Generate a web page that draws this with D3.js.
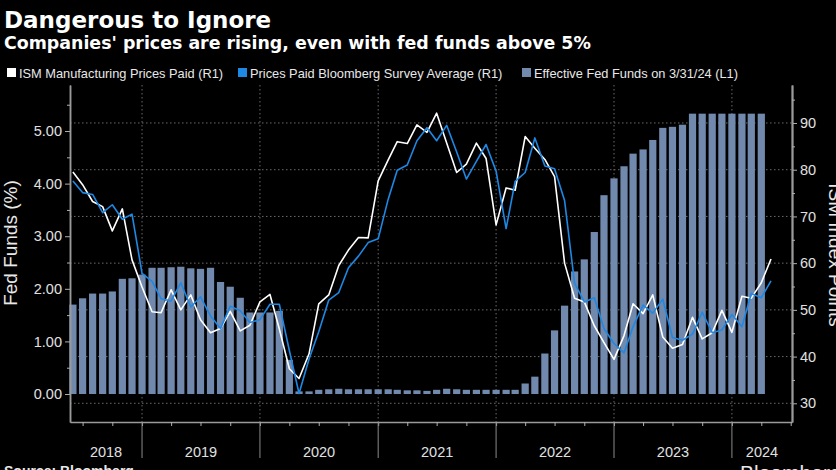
<!DOCTYPE html>
<html><head><meta charset="utf-8">
<script src="https://cdn.jsdelivr.net/npm/d3@7"></script>
<style>html,body{margin:0;padding:0;background:#000;overflow:hidden}</style>
</head><body><svg id="c" width="836" height="470"></svg>
<script>
// ---- data ----
const months = [
  "2018-05","2018-06","2018-07","2018-08","2018-09","2018-10","2018-11","2018-12",
  "2019-01","2019-02","2019-03","2019-04","2019-05","2019-06","2019-07","2019-08","2019-09","2019-10","2019-11","2019-12",
  "2020-01","2020-02","2020-03","2020-04","2020-05","2020-06","2020-07","2020-08","2020-09","2020-10","2020-11","2020-12",
  "2021-01","2021-02","2021-03","2021-04","2021-05","2021-06","2021-07","2021-08","2021-09","2021-10","2021-11","2021-12",
  "2022-01","2022-02","2022-03","2022-04","2022-05","2022-06","2022-07","2022-08","2022-09","2022-10","2022-11","2022-12",
  "2023-01","2023-02","2023-03","2023-04","2023-05","2023-06","2023-07","2023-08","2023-09","2023-10","2023-11","2023-12",
  "2024-01","2024-02","2024-03","2024-04"
];
// Effective Fed Funds (%), May 2018 - Mar 2024 (L1)
const fedFunds = [
  1.70,1.82,1.91,1.91,1.95,2.19,2.20,2.27,
  2.40,2.40,2.41,2.42,2.39,2.38,2.40,2.13,2.04,1.83,1.55,1.55,
  1.55,1.58,0.65,0.05,0.05,0.08,0.09,0.10,0.09,0.09,0.09,0.09,
  0.09,0.08,0.07,0.07,0.06,0.08,0.10,0.09,0.08,0.08,0.08,0.08,
  0.08,0.08,0.20,0.33,0.77,1.21,1.68,2.33,2.56,3.08,3.78,4.10,
  4.33,4.57,4.65,4.83,5.06,5.08,5.12,5.33,5.33,5.33,5.33,5.33,
  5.33,5.33,5.33
];
// ISM Manufacturing Prices Paid (R1)
const ismPrices = [
  79.5,76.8,73.2,72.1,66.9,71.6,60.7,54.9,
  49.6,49.4,54.3,50.0,53.2,47.9,45.1,46.0,49.7,45.5,46.7,51.7,
  53.3,45.9,37.4,35.3,40.6,51.3,53.2,59.5,62.8,65.5,65.4,77.6,
  82.1,86.0,85.6,89.6,88.0,92.1,85.7,79.4,81.2,85.7,82.4,68.2,
  76.1,75.6,87.1,84.6,82.2,78.5,60.0,52.5,51.7,46.6,43.0,39.4,
  44.5,51.3,49.2,53.2,44.2,41.8,42.6,48.4,43.8,45.1,49.9,45.2,
  52.9,52.5,55.8,60.9
];
// Prices Paid Bloomberg Survey Average (R1)
const surveyAvg = [
  77.6,75.1,74.7,70.8,72.5,69.4,70.5,57.8,
  56.1,52.4,51.9,55.8,50.6,52.8,48.7,46.0,50.8,49.8,47.3,47.9,
  51.2,51.2,41.3,32.1,39.5,45.3,52.1,53.7,59.0,61.5,64.4,65.2,
  73.7,79.9,81.0,86.2,89.0,86.2,89.5,83.8,78.0,81.8,85.4,79.7,
  67.4,77.5,79.4,86.8,80.8,80.2,73.4,55.7,51.7,52.6,46.0,42.8,
  40.8,46.4,51.0,49.3,52.3,44.1,43.5,44.8,49.5,45.1,45.7,49.0,
  46.4,53.5,52.6,56.2
];
const leftTicks = [0,1,2,3,4,5];
const leftMinor = [0.5,1.5,2.5,3.5,4.5,5.5];
const rightTicks = [30,40,50,60,70,80,90];
const rightMinor = [35,45,55,65,75,85,95];
const years = [2018,2019,2020,2021,2022,2023,2024];
const legendItems = [
  {label:"ISM Manufacturing Prices Paid (R1)", color:"#ffffff"},
  {label:"Prices Paid Bloomberg Survey Average (R1)", color:"#1e88e5"},
  {label:"Effective Fed Funds on 3/31/24 (L1)", color:"#7189ad"}
];

// ---- layout ----
const L = 70, R = 792, T = 85, B = 422;
const svg = d3.select('#c');
svg.append('rect').attr('width',836).attr('height',470).attr('fill','#000');

const parse = d3.timeParse('%Y-%m');
const dates = months.map(m => d3.timeDay.offset(d3.timeMonth.offset(parse(m),1),-1));
const x = d3.scaleTime().domain([new Date(2018,4,22), new Date(2024,6,4)]).range([L,R]);
const yL = d3.scaleLinear().domain([-0.532, 5.875]).range([B,T]);
const yR = d3.scaleLinear().domain([26.0, 98.13]).range([B,T]);

const font = "'Liberation Sans', Arial, sans-serif";

// titles
svg.append('text').attr('x',4).attr('y',28).text('Dangerous to Ignore')
  .attr('fill','#fff').attr('font-family',"'DejaVu Sans', sans-serif").attr('font-weight','bold').attr('font-size',23);
svg.append('text').attr('x',4).attr('y',49).text("Companies' prices are rising, even with fed funds above 5%")
  .attr('fill','#fff').attr('font-family',"'DejaVu Sans', sans-serif").attr('font-weight','bold').attr('font-size',17.4);

// legend
const legX = [7, 238, 522];
legendItems.forEach((it,i) => {
  const g = svg.append('g').attr('transform',`translate(${legX[i]},0)`);
  g.append('rect').attr('x',0).attr('y',68).attr('width',9).attr('height',9).attr('fill',it.color);
  g.append('text').attr('x',12).attr('y',77.5).text(it.label)
    .attr('fill','#e8e8e8').attr('font-family',font).attr('font-size',12.8);
});

// grid
const grid = svg.append('g');
grid.selectAll('line.h').data(rightTicks).join('line')
  .attr('x1',L).attr('x2',R).attr('y1',d=>yR(d)).attr('y2',d=>yR(d))
  .attr('stroke','#6a6a6a').attr('stroke-width',1).attr('stroke-dasharray','1.5,2.5');
const yearBounds = years.slice(0,-1).map(y => new Date(y,11,31));
grid.selectAll('line.v').data(yearBounds).join('line')
  .attr('x1',d=>x(d)).attr('x2',d=>x(d)).attr('y1',T).attr('y2',B)
  .attr('stroke','#6a6a6a').attr('stroke-width',1).attr('stroke-dasharray','1.5,2.5');

// bars
const monthPx = x(new Date(2020,1,1)) - x(new Date(2020,0,1));
const bw = monthPx * 0.72;
svg.append('g').selectAll('rect').data(fedFunds).join('rect')
  .attr('x',(d,i)=>x(dates[i]) - bw/2).attr('width',bw)
  .attr('y',d=>yL(d)).attr('height',d=>yL(0)-yL(d))
  .attr('fill','#7189ad');

// lines
const line = d3.line().x((d,i)=>x(dates[i])).y(d=>yR(d));
svg.append('path').datum(ismPrices).attr('d',line).attr('fill','none')
  .attr('stroke','#ffffff').attr('stroke-width',1.6).attr('stroke-linejoin','round');
svg.append('path').datum(surveyAvg).attr('d',line).attr('fill','none')
  .attr('stroke','#1e88e5').attr('stroke-width',1.6).attr('stroke-linejoin','round');

// left axis
const axL = svg.append('g').attr('transform',`translate(${L},0)`)
  .call(d3.axisLeft(yL).tickValues(leftTicks).tickFormat(d3.format('.2f')).tickSize(5).tickSizeOuter(0).tickPadding(3));
const axLm = svg.append('g').attr('transform',`translate(${L},0)`)
  .call(d3.axisLeft(yL).tickValues(leftMinor).tickFormat('').tickSize(3).tickSizeOuter(0));
// right axis
const axR = svg.append('g').attr('transform',`translate(${R},0)`)
  .call(d3.axisRight(yR).tickValues(rightTicks).tickSize(5).tickSizeOuter(0).tickPadding(3));
const axRm = svg.append('g').attr('transform',`translate(${R},0)`)
  .call(d3.axisRight(yR).tickValues(rightMinor).tickFormat('').tickSize(3).tickSizeOuter(0));
// bottom axis (quarterly ticks)
const quarters = d3.timeMonth.every(3).range(new Date(2018,6,1), new Date(2024,6,2)).map(d=>d3.timeDay.offset(d,-1));
const axB = svg.append('g').attr('transform',`translate(0,${B})`)
  .call(d3.axisBottom(x).tickValues(quarters).tickFormat('').tickSize(4).tickSizeOuter(0));

[axL,axLm,axR,axRm,axB].forEach(a => {
  a.select('.domain').attr('stroke','#9a9a9a').attr('stroke-width',1.5);
  a.selectAll('.tick line').attr('stroke','#b0b0b0');
  a.selectAll('.tick text').attr('fill','#e0e0e0').attr('font-family',font).attr('font-size',14.5);
});
axR.select('.domain').attr('stroke-width',2);

// year separators and labels
svg.append('g').selectAll('line').data(yearBounds).join('line')
  .attr('x1',d=>x(d)).attr('x2',d=>x(d)).attr('y1',B).attr('y2',458)
  .attr('stroke','#8a8a8a').attr('stroke-width',1);
const segs = years.map(y => {
  const a = Math.max(x(new Date(y-1,11,31)), L), b = Math.min(x(new Date(y,11,31)), R);
  return {y, cx:(a+b)/2};
});
svg.append('g').selectAll('text').data(segs).join('text')
  .attr('x',d=>d.cx).attr('y',457).attr('text-anchor','middle').text(d=>d.y)
  .attr('fill','#e0e0e0').attr('font-family',font).attr('font-size',14.5);

// axis titles
svg.append('text').attr('transform','translate(17,243) rotate(-90)').attr('text-anchor','middle')
  .text('Fed Funds (%)').attr('fill','#e8e8e8').attr('font-family',font).attr('font-size',19);
svg.append('text').attr('transform','translate(829,255) rotate(90)').attr('text-anchor','middle')
  .text('ISM Index Points').attr('fill','#e8e8e8').attr('font-family',font).attr('font-size',19);

// footer
svg.append('text').attr('x',4).attr('y',476).text('Source: Bloomberg')
  .attr('fill','#e8e8e8').attr('font-family',font).attr('font-weight','bold').attr('font-size',14);
svg.append('text').attr('x',740).attr('y',480).text('Bloomberg')
  .attr('fill','#e8e8e8').attr('font-family',font).attr('font-size',21);
</script></body></html>
